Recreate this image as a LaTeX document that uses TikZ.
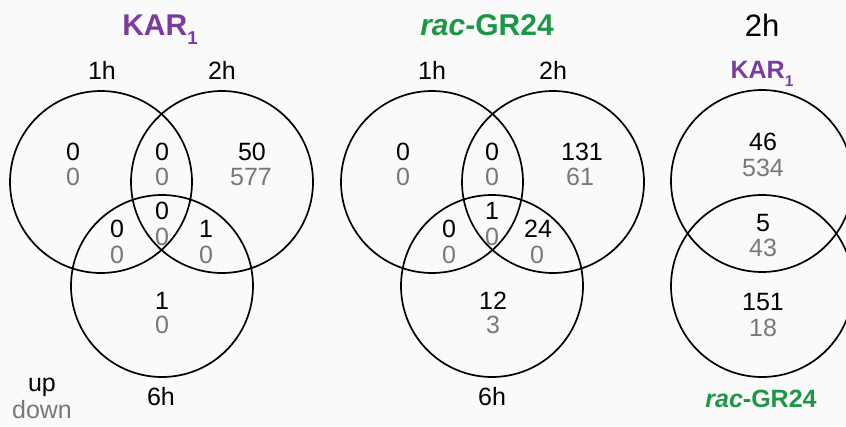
\documentclass[tikz,border=0pt]{standalone}
\usepackage{fontspec}
\setmainfont{Liberation Sans}
\definecolor{karpurple}{RGB}{125,60,155}
\definecolor{grgreen}{RGB}{30,150,70}
\definecolor{downgray}{RGB}{120,120,120}
% subscript index set lower than \textsubscript does
\newcommand{\lowidx}[1]{\raisebox{-0.33em}{\scalebox{0.62}{#1}}}
\begin{document}
\begin{tikzpicture}[x=1pt,y=-1pt,
  set/.style={draw=black,line width=1.7pt,circle,minimum size=182pt,inner sep=0pt},
  lbl/.style={font=\fontsize{25}{28}\selectfont,inner sep=0pt},
  upn/.style={font=\fontsize{25}{28}\selectfont,text=black,inner sep=0pt},
  dnn/.style={font=\fontsize{25}{28}\selectfont,text=downgray,inner sep=0pt},
  ttl/.style={font=\fontsize{30}{32}\selectfont\bfseries,inner sep=0pt,anchor=base},
  sttl/.style={font=\fontsize{25}{28}\selectfont\bfseries,inner sep=0pt,anchor=base}]
\useasboundingbox (0,0) rectangle (846,426);
\fill[white!98!black] (0,0) rectangle (846,426);

% --- KAR1 time course ---
\node[ttl,text=karpurple] (t1) at (160,35) {KAR\lowidx{1}};
\node[set] (a1) at (101,182) {};
\node[set] (a2) at (222,182) {};
\node[set] (a6) at (162,286) {};
\node[lbl] (la1) at (102,70) {1h};
\node[lbl] (la2) at (222,70) {2h};
\node[lbl] (la6) at (161,397) {6h};
\node[upn] (a1u) at (73,152) {0};   \node[dnn] (a1d) at (73,177) {0};
\node[upn] (a12u) at (162,152) {0}; \node[dnn] (a12d) at (162,177) {0};
\node[upn] (a2u) at (252,152) {50}; \node[dnn] (a2d) at (251,177) {577};
\node[upn] (a16u) at (117,229) {0}; \node[dnn] (a16d) at (117,255) {0};
\node[upn] (a126u) at (162,211) {0};\node[dnn] (a126d) at (162,237) {0};
\node[upn] (a26u) at (206,229) {1}; \node[dnn] (a26d) at (206,255) {0};
\node[upn] (a6u) at (162,301) {1};  \node[dnn] (a6d) at (162,325) {0};

% --- rac-GR24 time course ---
\node[ttl,text=grgreen] (t2) at (487,35) {\textit{rac}-GR24};
\node[set] (b1) at (432,182) {};
\node[set] (b2) at (553,182) {};
\node[set] (b6) at (492,286) {};
\node[lbl] (lb1) at (432,70) {1h};
\node[lbl] (lb2) at (553,70) {2h};
\node[lbl] (lb6) at (492,397) {6h};
\node[upn] (b1u) at (403,152) {0};   \node[dnn] (b1d) at (403,177) {0};
\node[upn] (b12u) at (492,152) {0};  \node[dnn] (b12d) at (492,177) {0};
\node[upn] (b2u) at (582,152) {131}; \node[dnn] (b2d) at (580,177) {61};
\node[upn] (b16u) at (449,229) {0};  \node[dnn] (b16d) at (449,255) {0};
\node[upn] (b126u) at (492,211) {1}; \node[dnn] (b126d) at (492,237) {0};
\node[upn] (b26u) at (538,229) {24}; \node[dnn] (b26d) at (537,255) {0};
\node[upn] (b6u) at (493,301) {12};  \node[dnn] (b6d) at (493,325) {3};

% --- 2h comparison ---
\node[lbl,font=\fontsize{31}{34}\selectfont,anchor=base] (t3) at (762,36) {2h};
\node[sttl,text=karpurple] (lk) at (762,78) {KAR\lowidx{1}};
\node[set] (ck) at (762,181) {};
\node[set] (cg) at (762,286) {};
\node[sttl,text=grgreen] (lg) at (761,407) {\textit{rac}-GR24};
\node[upn] (cku) at (763,142) {46};  \node[dnn] (ckd) at (763,168) {534};
\node[upn] (cbu) at (763,223) {5};   \node[dnn] (cbd) at (763,248) {43};
\node[upn] (cgu) at (763,302) {151}; \node[dnn] (cgd) at (763,328) {18};

% --- key ---
\node[upn,anchor=base] (keyu) at (42,391) {up};
\node[dnn,anchor=base] (keyd) at (42,418) {down};
\end{tikzpicture}
\end{document}
